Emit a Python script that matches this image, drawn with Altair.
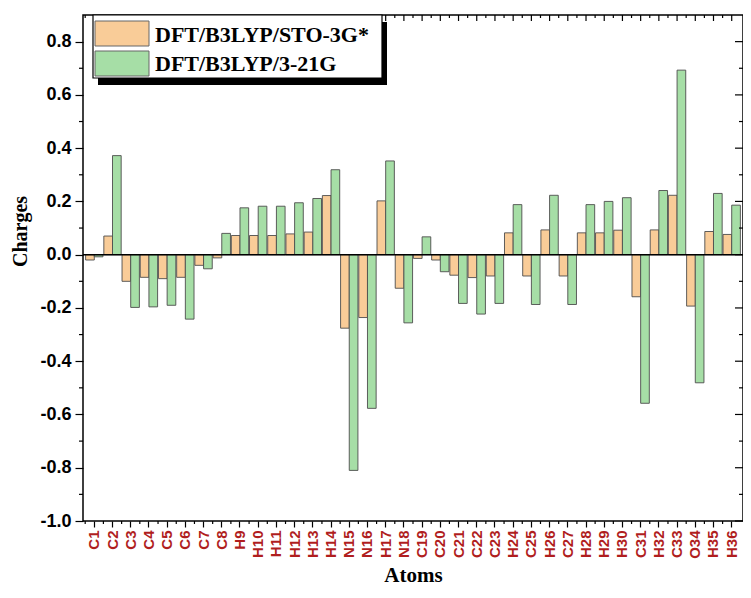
import altair as alt
import pandas as pd

atoms = ["C1", "C2", "C3", "C4", "C5", "C6", "C7", "C8", "H9", "H10", "H11", "H12",
         "H13", "H14", "N15", "N16", "H17", "N18", "C19", "C20", "C21", "C22", "C23",
         "H24", "C25", "H26", "C27", "H28", "H29", "H30", "C31", "H32", "C33", "O34",
         "H35", "H36"]
series = ["DFT/B3LYP/STO-3G*", "DFT/B3LYP/3-21G"]
sto3g = [-0.02, 0.07, -0.10, -0.085, -0.09, -0.085, -0.04, -0.012, 0.072, 0.072,
         0.072, 0.078, 0.085, 0.222, -0.276, -0.236, 0.202, -0.126, -0.014, -0.02,
         -0.077, -0.086, -0.08, 0.082, -0.08, 0.093, -0.08, 0.082, 0.082, 0.092,
         -0.158, 0.093, 0.223, -0.193, 0.087, 0.076]
b321g = [-0.008, 0.372, -0.198, -0.196, -0.19, -0.242, -0.053, 0.08, 0.176, 0.182,
         0.182, 0.195, 0.211, 0.319, -0.81, -0.577, 0.352, -0.256, 0.067, -0.064,
         -0.183, -0.223, -0.183, 0.188, -0.187, 0.223, -0.187, 0.188, 0.2, 0.214,
         -0.558, 0.241, 0.693, -0.481, 0.23, 0.186]
colors = ["#F9CC98", "#A6DEA6"]
y_major = [-1.0, -0.8, -0.6, -0.4, -0.2, 0.0, 0.2, 0.4, 0.6, 0.8]
y_minor = [-0.9, -0.7, -0.5, -0.3, -0.1, 0.1, 0.3, 0.5, 0.7]
zero_line = [0.0]

rows = []
for a, v1, v2 in zip(atoms, sto3g, b321g):
    rows.append({"atom": a, "series": series[0], "value": v1})
    rows.append({"atom": a, "series": series[1], "value": v2})
df = pd.DataFrame(rows)
one = pd.DataFrame({"k": [0]})
atom_df = pd.DataFrame({"atom": atoms})
ymaj_df = pd.DataFrame({"value": y_major})
ymin_df = pd.DataFrame({"value": y_minor})
zero_df = pd.DataFrame({"value": zero_line})

W, H = 660, 506
xscale = alt.Scale(type="band", domain=atoms, paddingInner=0, paddingOuter=0.12)
yscale = alt.Scale(type="linear", domain=[-1.0, 0.9], nice=False, zero=False)
offscale = alt.Scale(domain=series, paddingInner=0, paddingOuter=0.05)

ax_bottom = alt.Axis(orient="bottom", title="Atoms", labelAngle=270, labelColor="#B01E1E",
                     labelFont="Liberation Sans", labelFontWeight="bold", labelFontSize=15,
                     labelPadding=3, tickSize=6, bandPosition=0.5,
                     titleFont="Liberation Serif", titleFontSize=21, titleFontWeight="bold",
                     titleColor="black", titleY=54, titleBaseline="middle")
ax_left = alt.Axis(orient="left", values=y_major, title="Charges",
                   labelExpr="datum.value < 0 ? '-' + format(-datum.value, '.1f') : format(datum.value, '.1f')",
                   labelFont="Liberation Sans", labelFontWeight="bold", labelFontSize=18,
                   labelColor="black", labelPadding=4, tickSize=8,
                   titleFont="Liberation Serif", titleFontSize=20, titleFontWeight="bold",
                   titleColor="black", titleX=-63, titleY=216, titleAngle=270,
                   titleBaseline="middle", titleAlign="center")

X = lambda **kw: alt.X("atom:N", scale=xscale, axis=ax_bottom, **kw)
Y = lambda: alt.Y("value:Q", scale=yscale, axis=ax_left)

bars = alt.Chart(df).mark_bar(stroke="#4d4d4d", strokeWidth=0.9).encode(
    x=X(),
    xOffset=alt.XOffset("series:N", scale=offscale),
    y=Y(),
    fill=alt.Fill("series:N", scale=alt.Scale(domain=series, range=colors), legend=None),
)

zero = alt.Chart(zero_df).mark_rule(color="black", strokeWidth=1.5).encode(y=Y())

tick_style = dict(color="black", strokeWidth=1.2)


def xticks(band_pos, y0, y1):
    return alt.Chart(atom_df).mark_rule(**tick_style).encode(
        x=X(bandPosition=band_pos), y=alt.value(y0), y2=alt.value(y1))


def yticks(data, x0, x1):
    return alt.Chart(data).mark_rule(**tick_style).encode(
        y=Y(), x=alt.value(x0), x2=alt.value(x1))


tick_layers = [
    xticks(0, H, H + 3),        # bottom minor
    xticks(0.5, 0, 6),          # top major
    xticks(0, 0, 3),            # top minor
    yticks(ymin_df, -4, 0),     # left minor
    yticks(ymaj_df, W - 8, W),  # right major
    yticks(ymin_df, W - 4, W),  # right minor
]

leg_shadow = alt.Chart(one).mark_rect(color="black").encode(
    x=alt.value(15), x2=alt.value(304), y=alt.value(7), y2=alt.value(70))
leg_box = alt.Chart(one).mark_rect(fill="white", stroke="black", strokeWidth=1.2).encode(
    x=alt.value(10), x2=alt.value(299), y=alt.value(0), y2=alt.value(63))
sw1 = alt.Chart(one).mark_rect(fill=colors[0], stroke="#666666", strokeWidth=1).encode(
    x=alt.value(12), x2=alt.value(66), y=alt.value(6), y2=alt.value(31))
sw2 = alt.Chart(one).mark_rect(fill=colors[1], stroke="#666666", strokeWidth=1).encode(
    x=alt.value(12), x2=alt.value(66), y=alt.value(36), y2=alt.value(61))
txt_style = dict(align="left", baseline="middle", font="Liberation Serif",
                 fontWeight="bold", fontSize=22, color="black")
t1 = alt.Chart(one).mark_text(**txt_style).encode(
    x=alt.value(72), y=alt.value(20), text=alt.value(series[0]))
t2 = alt.Chart(one).mark_text(**txt_style).encode(
    x=alt.value(72), y=alt.value(49), text=alt.value(series[1]))

chart = alt.layer(
    bars, zero, *tick_layers,
    leg_shadow, leg_box, sw1, sw2, t1, t2,
).properties(
    width=W, height=H,
    padding={"left": 75, "top": 7, "right": 0, "bottom": 66},
    autosize=alt.AutoSizeParams(type="none"),
).configure_view(
    stroke="black", strokeWidth=1.5
).configure_axis(
    tickColor="black", tickWidth=1.2, domain=False, grid=False
)

chart.save("out.html", embed_options={"renderer": "svg", "actions": False})
